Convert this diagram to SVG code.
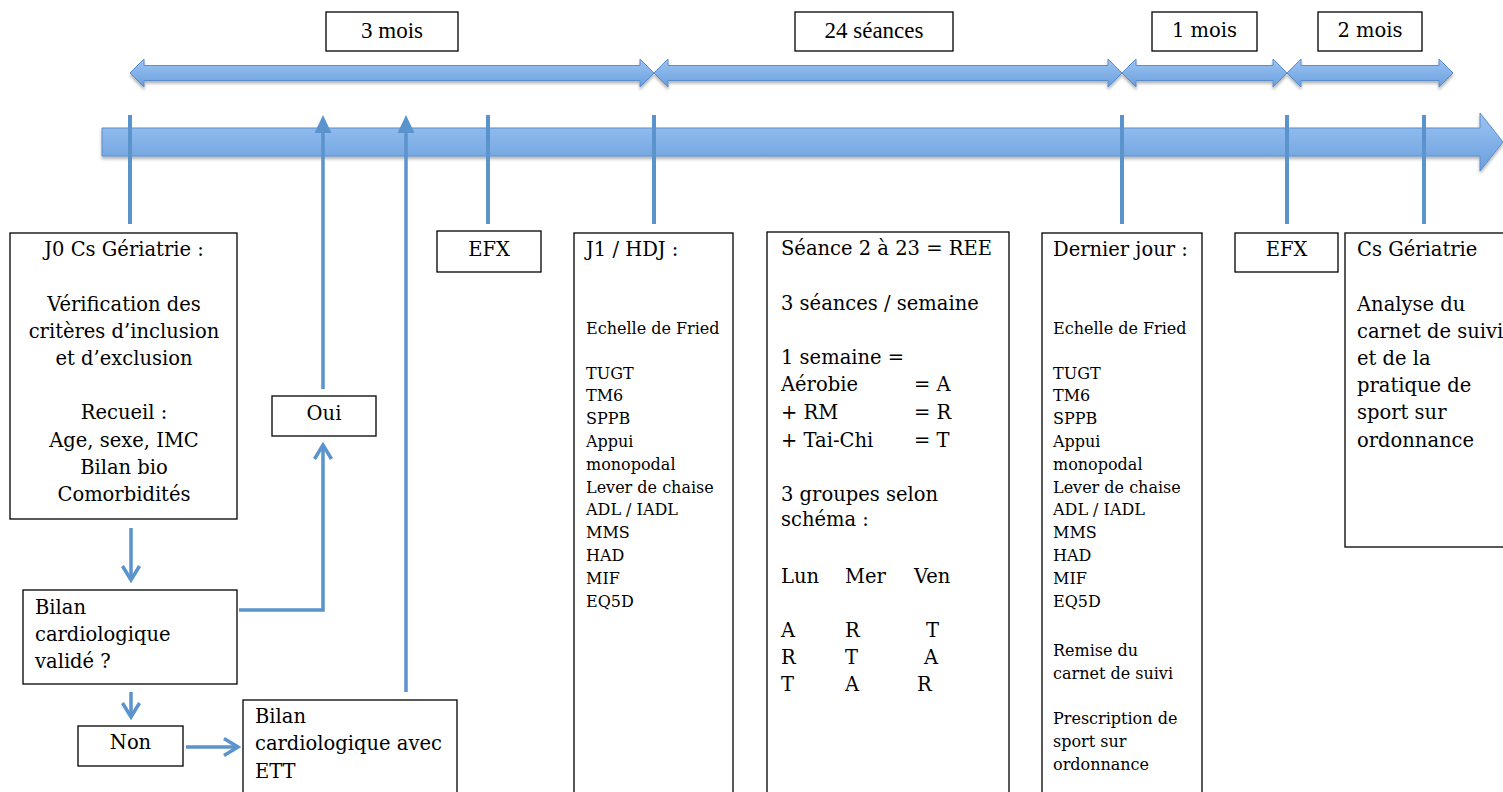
<svg xmlns="http://www.w3.org/2000/svg" width="1503" height="792" viewBox="0 0 1503 792">
<style>
.t{font-family:"DejaVu Serif",serif;font-size:19.5px;fill:#000}
.s{font-size:16px}
.tm{font-family:"Liberation Serif",serif;font-size:23px;fill:#000}
.m{text-anchor:middle}
.box{fill:#fff;stroke:#000;stroke-width:1.3}
.bar{fill:url(#g);stroke:#5a8dcb;stroke-width:1;filter:url(#sh)}
.tick{stroke:#5b93cd;stroke-width:4}
.c{fill:none;stroke:#5b93cd;stroke-width:3.5}
</style>
<defs>
<linearGradient id="g" x1="0" y1="0" x2="0" y2="1">
<stop offset="0" stop-color="#9cc4f3"/>
<stop offset="1" stop-color="#6a9fdd"/>
</linearGradient>
<filter id="sh" x="-5%" y="-30%" width="110%" height="180%">
<feDropShadow dx="0" dy="2.5" stdDeviation="1.5" flood-color="#000" flood-opacity="0.3"/>
</filter>
<marker id="mo" markerUnits="userSpaceOnUse" markerWidth="20" markerHeight="20" viewBox="0 0 20 20" refX="16" refY="10" orient="auto">
<path d="M3,1.5 L17,10 L3,18.5" fill="none" stroke="#5b93cd" stroke-width="3.5"/>
</marker>
<marker id="mf" markerUnits="userSpaceOnUse" markerWidth="20" markerHeight="20" viewBox="0 0 20 20" refX="14" refY="10" orient="auto">
<path d="M1,1.5 L19,10 L1,18.5 Z" fill="#5b93cd"/>
</marker>
</defs>
<rect width="1503" height="792" fill="#fff"/>

<g id="timeline">
<path class="bar" d="M102,128 L1480,128 L1480,113 L1503,142 L1480,171 L1480,156 L102,156 Z"/>
<path class="bar" d="M130,73 L144,59 L144,65.5 L640,65.5 L640,59 L654,73 L640,87 L640,80.5 L144,80.5 L144,87 Z"/>
<path class="bar" d="M654,73 L668,59 L668,65.5 L1108,65.5 L1108,59 L1122,73 L1108,87 L1108,80.5 L668,80.5 L668,87 Z"/>
<path class="bar" d="M1122,73 L1136,59 L1136,65.5 L1273,65.5 L1273,59 L1287,73 L1273,87 L1273,80.5 L1136,80.5 L1136,87 Z"/>
<path class="bar" d="M1287,73 L1301,59 L1301,65.5 L1439,65.5 L1439,59 L1453,73 L1439,87 L1439,80.5 L1301,80.5 L1301,87 Z"/>
</g>

<g id="durations">
<g id="d1"><rect class="box" x="326" y="12" width="132" height="39"/><text class="tm m" x="392" y="38">3 mois</text></g>
<g id="d2"><rect class="box" x="795" y="12" width="158" height="39"/><text class="tm m" x="874" y="38">24 séances</text></g>
<g id="d3"><rect class="box" x="1152" y="12" width="105" height="39"/><text class="t m" x="1204.5" y="37">1 mois</text></g>
<g id="d4"><rect class="box" x="1318" y="12" width="104" height="39"/><text class="t m" x="1370" y="37">2 mois</text></g>
</g>

<g id="connectors">
<line class="tick" x1="130" y1="115" x2="130" y2="224"/>
<line class="tick" x1="488" y1="115" x2="488" y2="224"/>
<line class="tick" x1="654" y1="115" x2="654" y2="224"/>
<line class="tick" x1="1122" y1="115" x2="1122" y2="224"/>
<line class="tick" x1="1287" y1="115" x2="1287" y2="224"/>
<line class="tick" x1="1424" y1="115" x2="1424" y2="224"/>
<line class="c" x1="323" y1="389" x2="323" y2="120" marker-end="url(#mf)"/>
<line class="c" x1="406" y1="692" x2="406" y2="120" marker-end="url(#mf)"/>
<line class="c" x1="131" y1="528" x2="131" y2="579" marker-end="url(#mo)"/>
<line class="c" x1="131" y1="692" x2="131" y2="716" marker-end="url(#mo)"/>
<line class="c" x1="186" y1="747" x2="237" y2="747" marker-end="url(#mo)"/>
<polyline class="c" points="239,610 323,610 323,446" marker-end="url(#mo)"/>
</g>

<g id="j0">
<rect class="box" x="10" y="233" width="227" height="286"/>
<text class="t m" x="124" y="255.5">J0 Cs Gériatrie :</text>
<text class="t m" x="124" y="310.5">Vérification des</text>
<text class="t m" x="124" y="337.5">critères d’inclusion</text>
<text class="t m" x="124" y="364.5">et d’exclusion</text>
<text class="t m" x="124" y="419">Recueil :</text>
<text class="t m" x="124" y="446.5">Age, sexe, IMC</text>
<text class="t m" x="124" y="473.5">Bilan bio</text>
<text class="t m" x="124" y="500.5">Comorbidités</text>
</g>

<g id="oui">
<rect class="box" x="272" y="396" width="104" height="40"/>
<text class="t m" x="324" y="419.5">Oui</text>
</g>

<g id="bilan">
<rect class="box" x="23" y="590" width="214" height="94"/>
<text class="t" x="35" y="613.5">Bilan</text>
<text class="t" x="35" y="640.5">cardiologique</text>
<text class="t" x="35" y="667.5">validé ?</text>
</g>

<g id="non">
<rect class="box" x="78" y="726" width="105" height="40"/>
<text class="t m" x="130.5" y="748.5">Non</text>
</g>

<g id="ett">
<rect class="box" x="243" y="700" width="214" height="110"/>
<text class="t" x="255" y="722.5">Bilan</text>
<text class="t" x="255" y="749.5">cardiologique avec</text>
<text class="t" x="255" y="777.5">ETT</text>
</g>

<g id="efx1">
<rect class="box" x="437" y="231" width="104" height="41"/>
<text class="t m" x="489" y="255.5">EFX</text>
</g>

<g id="j1">
<rect class="box" x="574" y="233" width="159" height="580"/>
<text class="t" x="586" y="255.5">J1 / HDJ :</text>
<text class="t s" x="586" y="334.3">Echelle de Fried</text>
<text class="t s" x="586" y="378.5">TUGT</text>
<text class="t s" x="586" y="401.3">TM6</text>
<text class="t s" x="586" y="424.1">SPPB</text>
<text class="t s" x="586" y="446.9">Appui</text>
<text class="t s" x="586" y="469.7">monopodal</text>
<text class="t s" x="586" y="492.5">Lever de chaise</text>
<text class="t s" x="586" y="515.3">ADL / IADL</text>
<text class="t s" x="586" y="538.1">MMS</text>
<text class="t s" x="586" y="560.9">HAD</text>
<text class="t s" x="586" y="583.7">MIF</text>
<text class="t s" x="586" y="606.5">EQ5D</text>
</g>

<g id="seance">
<rect class="box" x="767" y="232" width="242" height="580"/>
<text class="t" x="781" y="254.5">Séance 2 à 23 = REE</text>
<text class="t" x="781" y="310">3 séances / semaine</text>
<text class="t" x="781" y="364">1 semaine =</text>
<text class="t" x="781" y="391">Aérobie</text><text class="t" x="914" y="391">= A</text>
<text class="t" x="781" y="419">+ RM</text><text class="t" x="914" y="419">= R</text>
<text class="t" x="781" y="447">+ Tai-Chi</text><text class="t" x="914" y="447">= T</text>
<text class="t" x="781" y="500.5">3 groupes selon</text>
<text class="t" x="781" y="526">schéma :</text>
<text class="t" x="781" y="582.5">Lun</text><text class="t" x="845" y="582.5">Mer</text><text class="t" x="914" y="582.5">Ven</text>
<text class="t" x="781" y="637">A</text><text class="t" x="845" y="637">R</text><text class="t" x="926" y="637">T</text>
<text class="t" x="781" y="664">R</text><text class="t" x="845" y="664">T</text><text class="t" x="924" y="664">A</text>
<text class="t" x="781" y="691">T</text><text class="t" x="845" y="691">A</text><text class="t" x="917" y="691">R</text>
</g>

<g id="dernier">
<rect class="box" x="1042" y="233" width="160" height="580"/>
<text class="t" x="1053" y="255.5">Dernier jour :</text>
<text class="t s" x="1053" y="334.3">Echelle de Fried</text>
<text class="t s" x="1053" y="378.5">TUGT</text>
<text class="t s" x="1053" y="401.3">TM6</text>
<text class="t s" x="1053" y="424.1">SPPB</text>
<text class="t s" x="1053" y="446.9">Appui</text>
<text class="t s" x="1053" y="469.7">monopodal</text>
<text class="t s" x="1053" y="492.5">Lever de chaise</text>
<text class="t s" x="1053" y="515.3">ADL / IADL</text>
<text class="t s" x="1053" y="538.1">MMS</text>
<text class="t s" x="1053" y="560.9">HAD</text>
<text class="t s" x="1053" y="583.7">MIF</text>
<text class="t s" x="1053" y="606.5">EQ5D</text>
<text class="t s" x="1053" y="656.3">Remise du</text>
<text class="t s" x="1053" y="679.3">carnet de suivi</text>
<text class="t s" x="1053" y="724.3">Prescription de</text>
<text class="t s" x="1053" y="747.3">sport sur</text>
<text class="t s" x="1053" y="770.3">ordonnance</text>
</g>

<g id="efx2">
<rect class="box" x="1235" y="233" width="103" height="39"/>
<text class="t m" x="1286.5" y="255.5">EFX</text>
</g>

<g id="cs">
<rect class="box" x="1345" y="233" width="170" height="314"/>
<text class="t" x="1357" y="255.5">Cs Gériatrie</text>
<text class="t" x="1357" y="310.5">Analyse du</text>
<text class="t" x="1357" y="337.5">carnet de suivi</text>
<text class="t" x="1357" y="364.5">et de la</text>
<text class="t" x="1357" y="392">pratique de</text>
<text class="t" x="1357" y="419">sport sur</text>
<text class="t" x="1357" y="446.5">ordonnance</text>
</g>
</svg>
